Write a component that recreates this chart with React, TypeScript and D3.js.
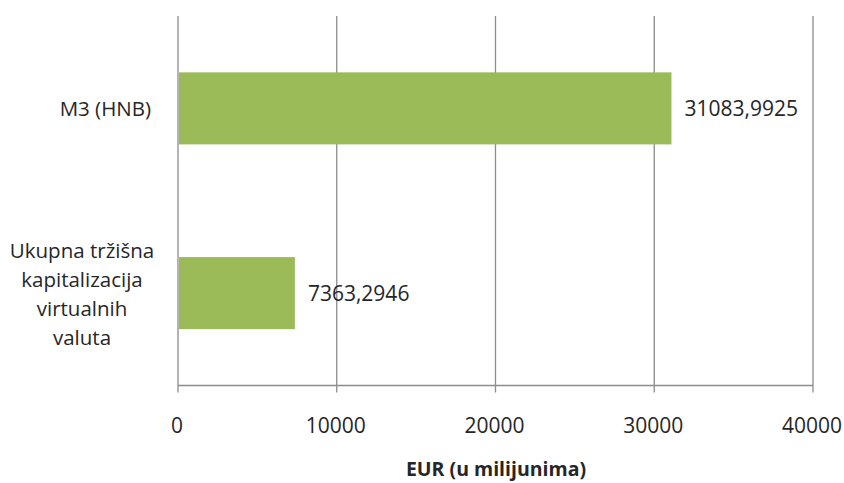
import React from "react";
import * as d3 from "d3";

const categories: string[][] = [
  ["M3 (HNB)"],
  ["Ukupna tržišna", "kapitalizacija", "virtualnih", "valuta"],
];
const values: number[] = [31083.9925, 7363.2946];
const valueLabels: string[] = ["31083,9925", "7363,2946"];
const xTicks: number[] = [0, 10000, 20000, 30000, 40000];
const axisTitle = "EUR (u milijunima)";

const W = 844;
const H = 483;
const FONT = "'Open Sans', 'Noto Sans', sans-serif";

export default function App() {
  const left = 178;
  const right = 813;
  const top = 16;
  const bottom = 385.5;

  const x = d3.scaleLinear().domain([0, 40000]).range([left, right]);
  const y = d3
    .scaleBand<number>()
    .domain(d3.range(categories.length))
    .range([top, bottom])
    .paddingInner(0.61)
    .paddingOuter(0.305);

  const grid = "#8c8c8c";
  const text = "#262626";
  const lineH = 29;
  const fs = 20.5;

  return (
    <div style={{ position: "absolute", left: 0, top: 0, width: W, height: H, overflow: "hidden" }}>
      <svg width={W} height={H} style={{ display: "block", background: "#fff" }}>
        {xTicks.map((t) => (
          <line key={"g" + t} x1={x(t)} x2={x(t)} y1={top} y2={bottom + 7} stroke={grid} strokeWidth={1.3} />
        ))}
        <line x1={left} x2={right} y1={bottom} y2={bottom} stroke={grid} strokeWidth={1.3} />
        {values.map((v, i) => (
          <rect key={"b" + i} x={x(0) + 1} y={y(i)!} width={x(v) - x(0) - 1} height={y.bandwidth()} fill="#9bbb59" />
        ))}
        {values.map((v, i) => (
          <text
            key={"v" + i}
            x={x(v) + 13}
            y={y(i)! + y.bandwidth() / 2}
            dominantBaseline="central"
            fontFamily={FONT}
            fontSize={21}
            fill={text}
          >
            {valueLabels[i]}
          </text>
        ))}
        {categories.map((lines, i) => {
          const cy = y(i)! + y.bandwidth() / 2;
          const multi = lines.length > 1;
          const cx = multi ? 82 : 151;
          return lines.map((ln, j) => (
            <text
              key={"c" + i + "-" + j}
              x={cx}
              y={cy + (j - (lines.length - 1) / 2) * lineH}
              textAnchor={multi ? "middle" : "end"}
              dominantBaseline="central"
              fontFamily={FONT}
              fontSize={fs}
              fill={text}
            >
              {ln}
            </text>
          ));
        })}
        {xTicks.map((t) => (
          <text
            key={"t" + t}
            x={x(t) - 1}
            y={425}
            textAnchor="middle"
            dominantBaseline="central"
            fontFamily={FONT}
            fontSize={21}
            fill={text}
          >
            {String(t)}
          </text>
        ))}
        <text
          x={496}
          y={476}
          textAnchor="middle"
          fontFamily={FONT}
          fontSize={19.5}
          fontWeight="bold"
          fill={text}
        >
          {axisTitle}
        </text>
      </svg>
    </div>
  );
}
